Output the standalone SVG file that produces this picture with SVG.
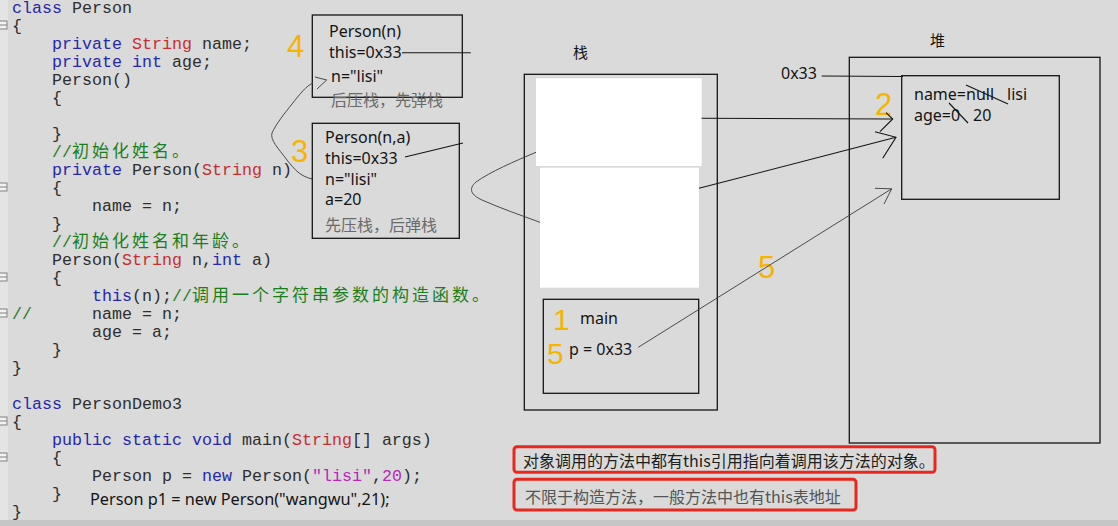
<svg xmlns="http://www.w3.org/2000/svg" width="1118" height="526" viewBox="0 0 1118 526">
<style>
.code{font-family:"Liberation Mono","Noto Sans CJK SC",monospace;font-size:16.67px;fill:#2e2e2e}
.kw{fill:#2828a8}
.ty{fill:#c43030}
.cm{fill:#1a7f1a}
.lit{fill:#b828b8}
.cjk{font-family:"Noto Sans CJK SC",sans-serif;font-size:17px;letter-spacing:3px}
.t{font-family:"Noto Sans","Noto Sans CJK SC",sans-serif;font-size:16px;fill:#141414}
.note{font-family:"Noto Sans CJK SC",sans-serif;font-size:16px;fill:#6a6a6a}
.num{font-family:"Liberation Sans",sans-serif;font-size:31px;fill:#f4b400}
.box{fill:none;stroke:#141414;stroke-width:1.3}
.wire{fill:none;stroke:#141414;stroke-width:1.1}
.hand{fill:none;stroke:#3a3a3a;stroke-width:0.9}
.red{fill:none;stroke:#e8281e;stroke-width:3}
.fold{fill:#f2f2f2;stroke:#808080;stroke-width:1}
</style>
<rect x="0" y="0" width="1118" height="526" fill="#dadada"/>
<rect x="0" y="0" width="8" height="520" fill="#e4e4e4"/>
<rect x="0" y="520" width="1118" height="6" fill="#c6c6c6"/>

<g id="fold-markers">
<g class="fold"><rect x="-1" y="21" width="8" height="8"/><line x1="-1" y1="25" x2="7" y2="25"/></g>
<g class="fold"><rect x="-1" y="183" width="8" height="8"/><line x1="-1" y1="187" x2="7" y2="187"/></g>
<g class="fold"><rect x="-1" y="273" width="8" height="8"/><line x1="-1" y1="277" x2="7" y2="277"/></g>
<g class="fold"><rect x="-1" y="309" width="8" height="8"/><line x1="-1" y1="313" x2="7" y2="313"/></g>
<g class="fold"><rect x="-1" y="417" width="8" height="8"/><line x1="-1" y1="421" x2="7" y2="421"/></g>
<g class="fold"><rect x="-1" y="453" width="8" height="8"/><line x1="-1" y1="457" x2="7" y2="457"/></g>
</g>

<g id="code" class="code" xml:space="preserve">
<text x="12" y="12.5"><tspan class="kw">class</tspan> Person</text>
<text x="12" y="30.5">{</text>
<text x="52" y="48.5"><tspan class="kw">private</tspan> <tspan class="ty">String</tspan> name;</text>
<text x="52" y="66.5"><tspan class="kw">private</tspan> <tspan class="kw">int</tspan> age;</text>
<text x="52" y="84.5">Person()</text>
<text x="52" y="102.5">{</text>
<text x="52" y="138.5">}</text>
<text x="52" y="156.5" class="cm">//</text><text x="72" y="156.5" class="cm cjk">初始化姓名。</text>
<text x="52" y="174.5"><tspan class="kw">private</tspan> Person(<tspan class="ty">String</tspan> n)</text>
<text x="52" y="192.5">{</text>
<text x="92" y="210.5">name = n;</text>
<text x="52" y="228.5">}</text>
<text x="52" y="246.5" class="cm">//</text><text x="72" y="246.5" class="cm cjk">初始化姓名和年龄。</text>
<text x="52" y="264.5">Person(<tspan class="ty">String</tspan> n,<tspan class="kw">int</tspan> a)</text>
<text x="52" y="282.5">{</text>
<text x="92" y="300.5"><tspan class="kw">this</tspan>(n);<tspan class="cm">//</tspan></text><text x="192" y="300.5" class="cm cjk">调用一个字符串参数的构造函数。</text>
<text x="12" y="318.5" class="cm">//</text><text x="92" y="318.5">name = n;</text>
<text x="92" y="336.5">age = a;</text>
<text x="52" y="354.5">}</text>
<text x="12" y="372.5">}</text>
<text x="12" y="408.5"><tspan class="kw">class</tspan> PersonDemo3</text>
<text x="12" y="426.5">{</text>
<text x="52" y="444.5"><tspan class="kw">public static void</tspan> main(<tspan class="ty">String</tspan>[] args)</text>
<text x="52" y="462.5">{</text>
<text x="92" y="480.5">Person p = <tspan class="kw">new</tspan> Person(<tspan class="lit">"lisi"</tspan>,<tspan class="lit">20</tspan>);</text>
<text x="52" y="498.5">}</text>
<text x="12" y="516.5">}</text>
</g>
<text x="90" y="505" class="t" style="font-size:16.3px">Person p1 = new Person("wangwu",21);</text>

<g id="frame-person-n">
<rect class="box" x="312.3" y="15" width="150" height="82.3"/>
<text class="t" x="329" y="37">Person(n)</text>
<text class="t" x="329" y="58">this=0x33</text>
<text class="t" x="331" y="82">n="lisi"</text>
<text class="note" x="331" y="106">后压栈，先弹栈</text>
<text class="num" x="287" y="57">4</text>
</g>

<g id="frame-person-n-a">
<rect class="box" x="312.3" y="123.3" width="147" height="115"/>
<text class="t" x="325" y="143">Person(n,a)</text>
<text class="t" x="325" y="164">this=0x33</text>
<text class="t" x="325" y="185">n="lisi"</text>
<text class="t" x="325" y="205">a=20</text>
<text class="note" x="325" y="231">先压栈，后弹栈</text>
<text class="num" x="291" y="162">3</text>
</g>

<g id="stack">
<text class="t" x="573" y="58" style="font-family:'Noto Sans CJK SC',sans-serif;font-size:15px">栈</text>
<rect class="box" x="524.3" y="74.3" width="193" height="335.7"/>
<rect x="536" y="78.3" width="165.7" height="87.7" fill="#ffffff"/>
<rect x="540" y="167.7" width="159" height="120" fill="#ffffff"/>
</g>

<g id="frame-main">
<rect class="box" x="543.3" y="299.3" width="155.4" height="94"/>
<text class="t" x="580" y="324">main</text>
<text class="t" x="569" y="355">p = 0x33</text>
<text class="num" x="553" y="330" style="font-size:30px">1</text>
<text class="num" x="547" y="364" style="font-size:30px">5</text>
</g>

<g id="heap">
<text class="t" x="930" y="46" style="font-family:'Noto Sans CJK SC',sans-serif;font-size:15px">堆</text>
<rect class="box" x="849.3" y="57.3" width="250.7" height="385.7"/>
<text class="t" x="781" y="79">0x33</text>
</g>

<g id="object-0x33">
<rect class="box" x="901.7" y="75.7" width="157.6" height="123.6"/>
<text class="t" x="914" y="100">name=null</text>
<text class="t" x="1007" y="100">lisi</text>
<text class="t" x="914" y="121">age=0</text>
<text class="t" x="973" y="121">20</text>
<line class="wire" x1="966" y1="85" x2="1008" y2="104"/>
<line class="wire" x1="949" y1="103" x2="968" y2="123"/>
<text class="num" x="875" y="115">2</text>
</g>

<text class="num" x="758" y="278">5</text>

<g id="connectors">
<line class="wire" x1="402" y1="52.7" x2="470.7" y2="52.7"/>
<line class="wire" x1="405" y1="157" x2="463" y2="143"/>
<path class="hand" d="M313,83 C306,86 300,94 292,104 C284,114 276,124 272,133 C270,140 278,148 287,160 C295,170 300,176 312,179"/>
<path class="hand" d="M315,77 L326.7,80 L317,89"/>
<path class="hand" d="M536,152.3 C515,161 490,172 476,182 C468,189 471,195 482,200 C500,208 520,215 540,222.3"/>
<line class="wire" x1="701.7" y1="118.3" x2="892.7" y2="119"/>
<path class="wire" d="M886,112.7 L892.7,119 L880,131.7"/>
<line class="wire" x1="699" y1="188.3" x2="896" y2="137.3"/>
<path class="wire" d="M875,131.7 L896,137.3 L882.7,158.3"/>
<line class="hand" x1="638.3" y1="347.3" x2="891.7" y2="188.8"/>
<path class="hand" d="M875,188.3 L891.7,188.8 L884,204"/>
<line class="wire" x1="821.7" y1="76" x2="903" y2="76.5"/>
</g>

<g id="note-this-ref">
<rect class="red" x="514" y="446.7" width="421" height="25.6" rx="3"/>
<text class="t" x="523" y="466.5" style="font-family:'Noto Sans CJK SC',sans-serif;fill:#1e1e1e">对象调用的方法中都有this引用指向着调用该方法的对象。</text>
</g>
<g id="note-general">
<rect class="red" x="514" y="479.3" width="342" height="30.7" rx="3"/>
<text class="note" x="525" y="502.5" style="fill:#555">不限于构造方法，一般方法中也有this表地址</text>
</g>
</svg>
